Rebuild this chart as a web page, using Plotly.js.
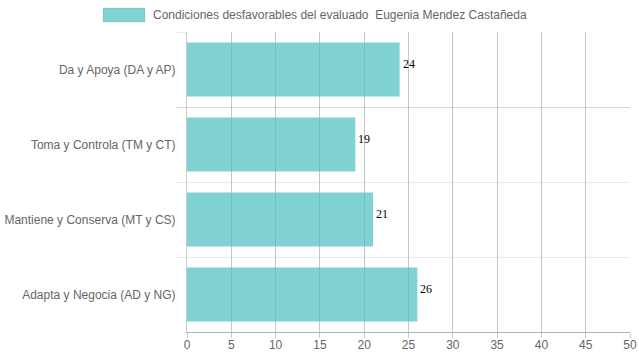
<!DOCTYPE html>
<html>
<head>
<meta charset="utf-8">
<script src="https://cdn.plot.ly/plotly-3.0.1.min.js"></script>
<style>html,body{margin:0;padding:0;background:#fff;}#chart{width:639px;height:360px;}</style>
</head>
<body>
<div id="chart"></div>
<script>
var categories = ["Da y Apoya (DA y AP)", "Toma y Controla (TM y CT)", "Mantiene y Conserva (MT y CS)", "Adapta y Negocia (AD y NG)"];
var values = [24, 19, 21, 26];
var seriesName = "Condiciones desfavorables del evaluado  Eugenia Mendez Castañeda";
var xTicks = [0, 5, 10, 15, 20, 25, 30, 35, 40, 45, 50];

var trace = {
  type: "bar",
  orientation: "h",
  y: categories,
  x: values,
  marker: {color: "rgba(75,192,192,0.7)", line: {width: 0}},
  name: seriesName,
  showlegend: false,
  hoverinfo: "none"
};

var valueLabels = values.map(function (v, i) {
  return {
    x: v, y: categories[i], xref: "x", yref: "y",
    xanchor: "left", yanchor: "middle", showarrow: false,
    xshift: 1, yshift: 6,
    text: String(v),
    font: {family: "Liberation Serif, Times New Roman, serif", size: 12, color: "#000"}
  };
});

var layout = {
  width: 639, height: 360,
  margin: {l: 187, r: 9, t: 32, b: 28, pad: 0},
  paper_bgcolor: "#fff", plot_bgcolor: "#fff",
  bargap: 0.28,
  font: {family: "Liberation Sans, Arial, sans-serif", size: 12, color: "#666"},
  xaxis: {
    range: [0, 50], tickvals: xTicks, ticktext: xTicks.map(String),
    showgrid: true, gridcolor: "rgba(0,0,0,0.22)", gridwidth: 1,
    zeroline: false, showline: true, linecolor: "rgba(0,0,0,0.3)",
    ticks: "outside", ticklen: 5, tickcolor: "rgba(0,0,0,0.2)",
    ticklabelstandoff: -3,
    tickfont: {size: 12, color: "#666"}, fixedrange: true
  },
  yaxis: {
    type: "category", autorange: "reversed",
    tickson: "boundaries", ticks: "outside", ticklen: 10, tickcolor: "rgba(0,0,0,0.08)",
    showgrid: true, gridcolor: "rgba(0,0,0,0.08)", gridwidth: 1,
    showline: true, linecolor: "rgba(0,0,0,0.2)",
    tickfont: {size: 12, color: "#666"}, ticklabelstandoff: 8, fixedrange: true
  },
  shapes: [{
    type: "rect", xref: "paper", yref: "paper",
    x0: (103 - 187) / 443, x1: (145 - 187) / 443,
    y0: (300 - (8 - 32)) / 300, y1: (300 - (22 - 32)) / 300,
    fillcolor: "rgba(75,192,192,0.7)", line: {color: "rgba(0,0,0,0.08)", width: 1}
  }],
  annotations: [{
    xref: "paper", yref: "paper",
    x: (151 - 187) / 443, y: (300 - (15 - 32)) / 300,
    xanchor: "left", yanchor: "middle", showarrow: false,
    text: seriesName, font: {size: 12, color: "#666"}
  }].concat(valueLabels)
};

Plotly.newPlot("chart", [trace], layout, {displayModeBar: false, staticPlot: true});
</script>
</body>
</html>
